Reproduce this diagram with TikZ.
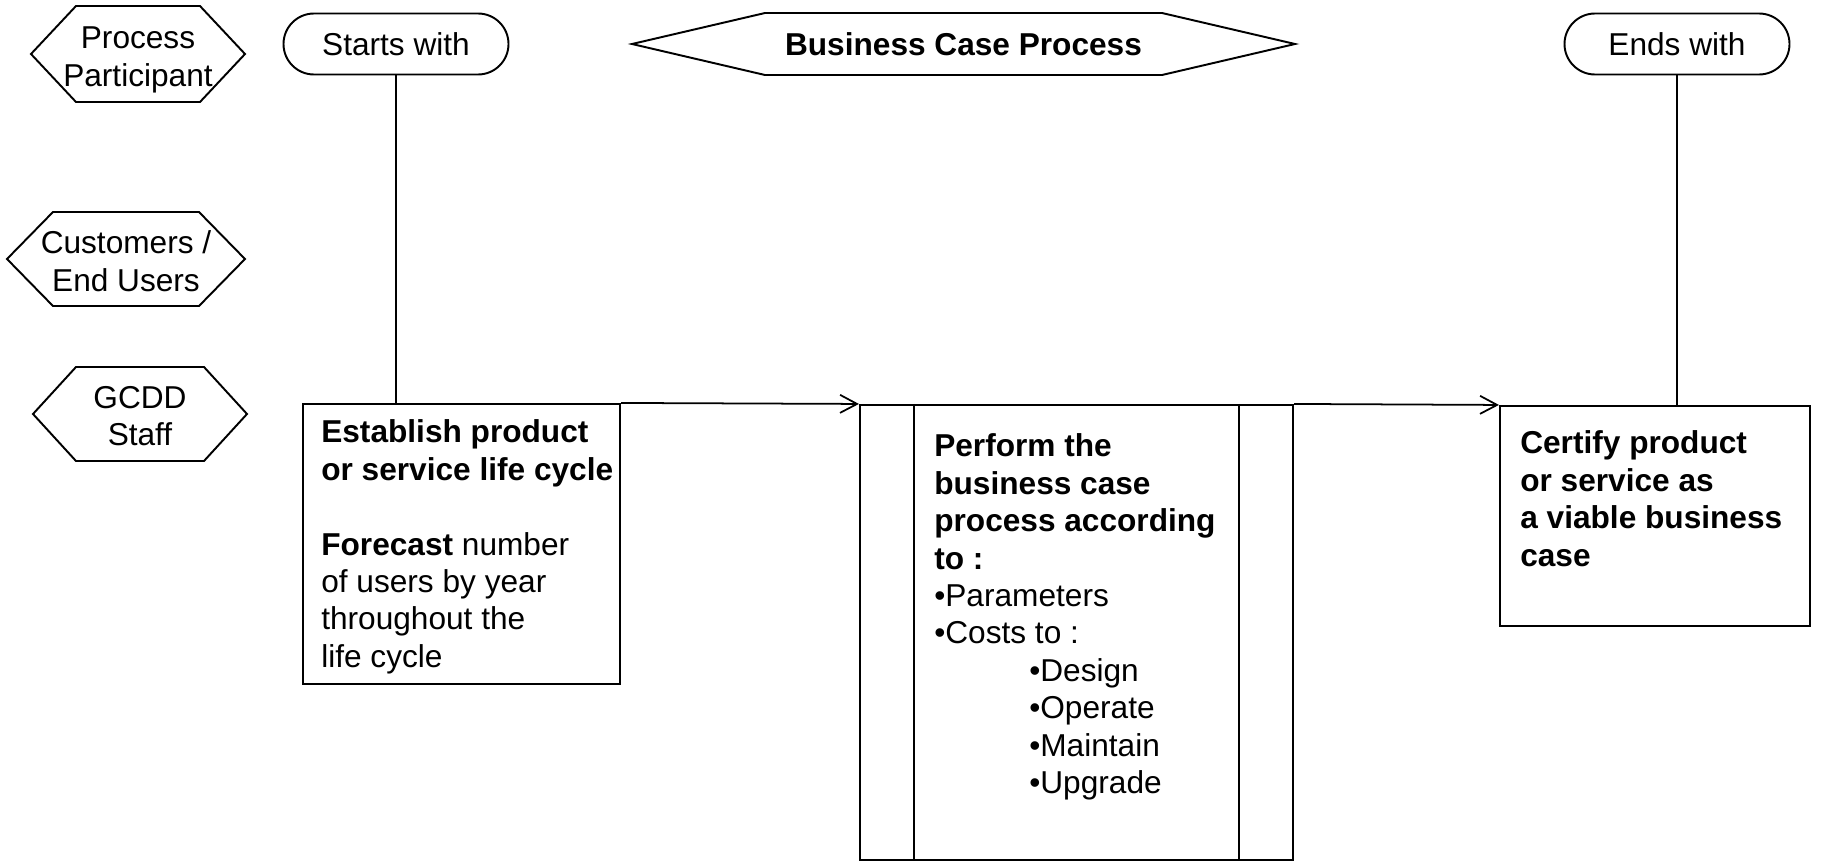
\documentclass[tikz,border=0pt]{standalone}
\usepackage{fontspec}
\setmainfont{Liberation Sans}
\usetikzlibrary{shapes.misc, arrows.meta, positioning}
\tikzset{
	lane/.style={align=center, inner sep=0pt},
	hexline/.style={draw, line width=1.1pt},
	terminal/.style={rounded rectangle, draw, line width=1.1pt, minimum width=45mm, minimum height=12.2mm, inner sep=0pt},
	task/.style={rectangle, draw, line width=1.2pt, inner sep=0pt},
	tasktext/.style={align=left, inner sep=0pt},
	line/.style={draw, line width=1pt},
	arrow/.style={line, -{Straight Barb[length=3.4mm, width=3.6mm]}}
}

\begin{document}
\begin{tikzpicture}[x=0.2mm, y=-0.2mm, font=\fontsize{18}{21.3}\selectfont]
	\useasboundingbox (0,0) rectangle (1828,867);
	
	% --- Left column: process participants ---
	\node[lane] (participant) at (138,60) {Process\\Participant};
	\draw[hexline] (participant.center) ++(-107,-6) -- ++(45,-48) -- ++(124,0) -- ++(45,48) -- ++(-45,48) -- ++(-124,0) -- cycle;
	
	\node[lane] (customers) at (126,261) {Customers /\\End Users};
	\draw[hexline] (customers.center) ++(-119,-2) -- ++(46,-47) -- ++(146,0) -- ++(46,47) -- ++(-46,47) -- ++(-146,0) -- cycle;
	
	\node[lane] (staff) at (140,416) {GCDD\\Staff};
	\draw[hexline] (staff.center) ++(-107,-2) -- ++(43,-47) -- ++(128,0) -- ++(43,47) -- ++(-43,47) -- ++(-128,0) -- cycle;
	
	% --- Top row: start, title, end ---
	\node[terminal] (starts) at (396,44) {Starts with};
	\node[lane, font=\fontsize{18}{21.3}\selectfont\bfseries] (title) at (963.5,44) {Business Case Process};
	\draw[hexline] (title.center) ++(-331.5,0) -- ++(133,-31) -- ++(397,0) -- ++(133,31) -- ++(-133,31) -- ++(-397,0) -- cycle;
	\node[terminal] (ends) at (1677,44) {Ends with};
	
	% --- Process steps ---
	\node[task, minimum width=63.4mm, minimum height=56mm] (estab) at (461.5,544) {};
	\node[tasktext, below right=3.3mm and 3.8mm of estab.north west] (estabtext)
		{\textbf{Establish product}\\\textbf{or service life cycle}\\[21.3pt]\textbf{Forecast} number\\of users by year\\throughout the\\life cycle};
	
	\node[task, minimum width=86.6mm, minimum height=91mm] (proc) at (1076.5,632.5) {};
	\draw[line] ([xshift=11mm]proc.north west) -- ([xshift=11mm]proc.south west);
	\draw[line] ([xshift=-11mm]proc.north east) -- ([xshift=-11mm]proc.south east);
	\node[tasktext, below right=5.9mm and 15mm of proc.north west] (proctext)
		{\textbf{Perform the}\\\textbf{business case}\\\textbf{process according}\\\textbf{to :}\\•Parameters\\•Costs to :\\\hspace*{19mm}•Design\\\hspace*{19mm}•Operate\\\hspace*{19mm}•Maintain\\\hspace*{19mm}•Upgrade};
	
	\node[task, minimum width=62mm, minimum height=44mm] (cert) at (1655,516) {};
	\node[tasktext, below right=5.1mm and 4.2mm of cert.north west] (certtext)
		{\textbf{Certify product}\\\textbf{or service as}\\\textbf{a viable business}\\\textbf{case}};
	
	% --- Connectors ---
	\draw[line] (starts.south) -- (starts.south |- estab.north);
	\draw[line] (ends.south) -- (ends.south |- cert.north);
	\draw[arrow] (estab.north east) -- (proc.north west);
	\draw[arrow] (proc.north east) -- (cert.north west);
	
\end{tikzpicture}
\end{document}
